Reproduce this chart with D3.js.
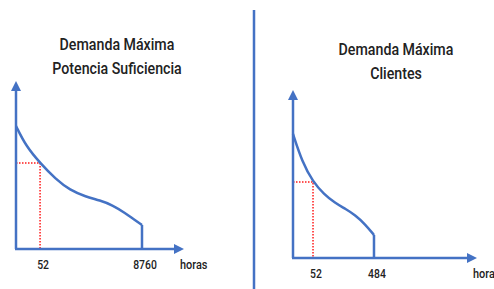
<!DOCTYPE html>
<html>
<head>
<meta charset="utf-8">
<script src="https://cdn.jsdelivr.net/npm/d3@7"></script>
<style>
  body { margin: 0; background: #fff; }
  svg { display: block; }
  text { font-family: Roboto, "DejaVu Sans", sans-serif; font-weight: 500; fill: #222; }
</style>
</head>
<body>
<div id="chart"></div>
<script>
// Schematic load-duration curves, values in relative units (0-100 of each axis)
const titlesLeft = ["Demanda Máxima", "Potencia Suficiencia"];
const titlesRight = ["Demanda Máxima", "Clientes"];

const curveLeftX = [0, 6, 14.5, 24, 32.5, 42, 50.6, 58, 65.7, 71, 75.9];
const curveLeftY = [74.1, 62, 51.8, 42, 35.5, 31.5, 29.3, 26.5, 21.7, 17.8, 14.5];
const markLeft = { x: 14.5, y: 51.8 };
const ticksLeft = [{ x: 14.5, label: "52" }, { x: 75.9, label: "8760" }];

const curveRightX = [0, 5, 11, 17, 23.1, 29, 34.1, 39.5, 44.5];
const curveRightY = [74.7, 58, 45.8, 38.5, 33.1, 29.5, 25.9, 20.5, 13.9];
const markRight = { x: 11, y: 45.8 };
const ticksRight = [{ x: 11, label: "52" }, { x: 44.5, label: "484" }];

const axisName = "horas";

const width = 494, height = 289;
const blue = "#4472C4";
const red = "#FF1A1A";

const svg = d3.select("#chart").append("svg")
  .attr("width", width)
  .attr("height", height);

// squeeze text to look like a condensed face
function condense(sel, k) {
  sel.each(function() {
    const w = this.getComputedTextLength();
    d3.select(this)
      .attr("textLength", w * k)
      .attr("lengthAdjust", "spacingAndGlyphs");
  });
}

// arrow head marker
svg.append("defs").append("marker")
  .attr("id", "arrow")
  .attr("viewBox", "0 0 10 10")
  .attr("refX", 2).attr("refY", 5)
  .attr("markerWidth", 4).attr("markerHeight", 4)
  .attr("orient", "auto")
  .append("path")
  .attr("d", "M0,0 L10,5 L0,10 z")
  .attr("fill", blue);

// divider line
svg.append("line")
  .attr("x1", 254).attr("x2", 254)
  .attr("y1", 10).attr("y2", height)
  .attr("stroke", blue)
  .attr("stroke-width", 2.5);

function drawPanel(cfg) {
  const x = d3.scaleLinear().domain([0, 100]).range([cfg.x0, cfg.x1]);
  const y = d3.scaleLinear().domain([0, 100]).range([cfg.y0, cfg.y1]);
  const g = svg.append("g");

  // title
  g.selectAll("text.title")
    .data(cfg.titles)
    .enter()
    .append("text")
    .attr("class", "title")
    .attr("x", cfg.titleX)
    .attr("y", (d, i) => cfg.titleY + i * 24)
    .attr("text-anchor", "middle")
    .attr("font-size", "16.5px")
    .text(d => d)
    .call(condense, 0.86);

  // red dotted guides
  g.append("path")
    .attr("d", `M${x(0)},${y(cfg.mark.y)} H${x(cfg.mark.x)} V${y(0)}`)
    .attr("fill", "none")
    .attr("stroke", red)
    .attr("stroke-width", 1.5)
    .attr("stroke-dasharray", "1.5,1.5");

  // curve
  const pts = cfg.cx.map((d, i) => [d, cfg.cy[i]]);
  const line = d3.line()
    .x(d => x(d[0]))
    .y(d => y(d[1]))
    .curve(d3.curveBasis);
  g.append("path")
    .datum(pts)
    .attr("d", line)
    .attr("fill", "none")
    .attr("stroke", blue)
    .attr("stroke-width", 2.5);

  // drop at end of curve
  const last = pts[pts.length - 1];
  g.append("line")
    .attr("x1", x(last[0])).attr("x2", x(last[0]))
    .attr("y1", y(last[1])).attr("y2", y(0))
    .attr("stroke", blue)
    .attr("stroke-width", 2.5);

  // axes with arrows
  g.append("line")
    .attr("x1", x(0)).attr("y1", y(0))
    .attr("x2", x(0)).attr("y2", y(100) + 6)
    .attr("stroke", blue).attr("stroke-width", 2.5)
    .attr("marker-end", "url(#arrow)");
  g.append("line")
    .attr("x1", x(0) - 1).attr("y1", y(0))
    .attr("x2", x(100) - 6).attr("y2", y(0))
    .attr("stroke", blue).attr("stroke-width", 2.5)
    .attr("marker-end", "url(#arrow)");

  // tick labels
  g.selectAll("text.tick")
    .data(cfg.ticks)
    .enter()
    .append("text")
    .attr("class", "tick")
    .attr("x", d => x(d.x) + 3)
    .attr("y", y(0) + 20)
    .attr("text-anchor", "middle")
    .attr("font-size", "13px")
    .text(d => d.label)
    .call(condense, 0.8);

  g.append("text")
    .attr("x", cfg.nameX)
    .attr("y", y(0) + 20)
    .attr("font-size", "13px")
    .text(axisName)
    .call(condense, 0.84);
}

drawPanel({
  x0: 16, x1: 182, y0: 249, y1: 83,
  cx: curveLeftX, cy: curveLeftY, mark: markLeft, ticks: ticksLeft,
  titles: titlesLeft, titleX: 117, titleY: 50, nameX: 180
});

drawPanel({
  x0: 293, x1: 475, y0: 258, y1: 92,
  cx: curveRightX, cy: curveRightY, mark: markRight, ticks: ticksRight,
  titles: titlesRight, titleX: 396, titleY: 55, nameX: 473
});
</script>
</body>
</html>
